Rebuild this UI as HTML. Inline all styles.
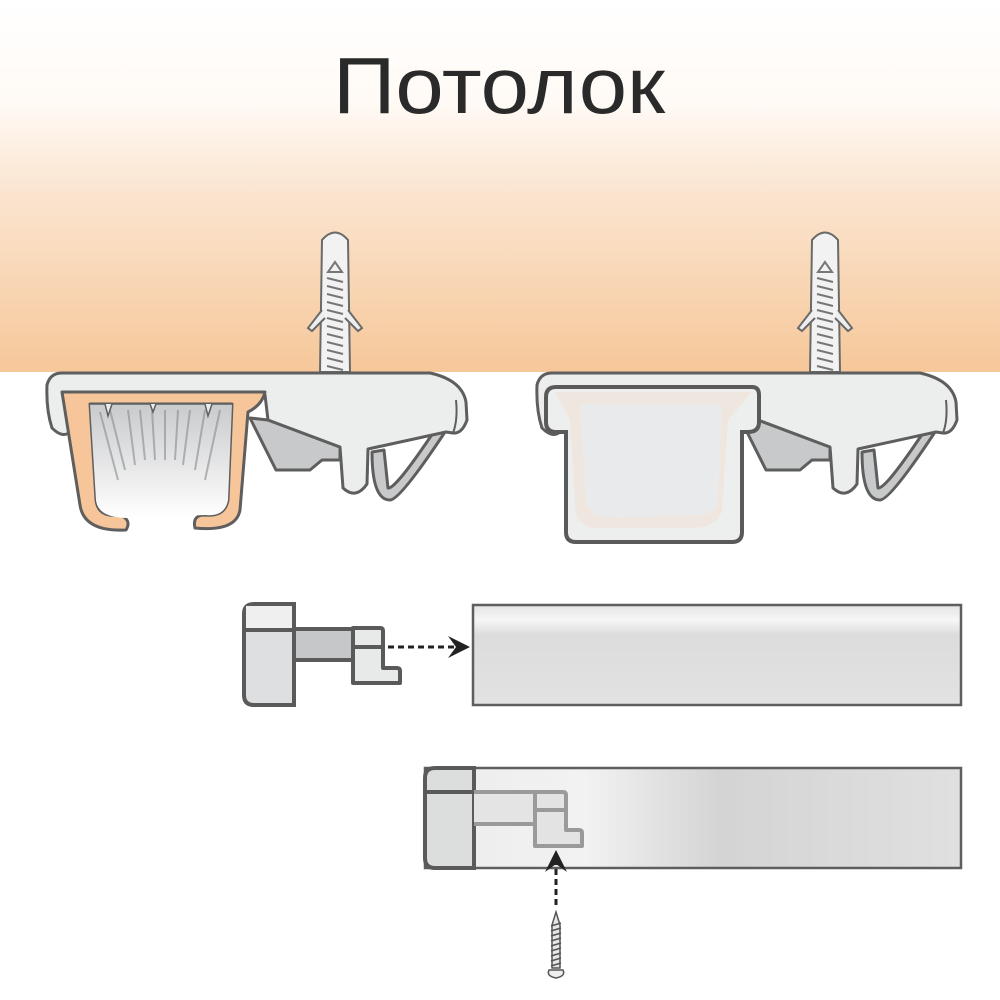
<!DOCTYPE html>
<html><head><meta charset="utf-8"><style>
html,body{margin:0;padding:0;background:#fff}
svg{display:block}
</style></head><body>
<svg width="1000" height="1000" viewBox="0 0 1000 1000" xmlns="http://www.w3.org/2000/svg">
<defs>
<linearGradient id="ceil" x1="0" y1="0" x2="0" y2="1">
<stop offset="0" stop-color="#ffffff"/>
<stop offset="0.28" stop-color="#fffaf5"/>
<stop offset="0.5" stop-color="#fbe6d2"/>
<stop offset="1" stop-color="#f6c799"/>
</linearGradient>
<linearGradient id="inner" x1="0" y1="0" x2="0" y2="1">
<stop offset="0" stop-color="#c9cacc"/>
<stop offset="1" stop-color="#ffffff"/>
</linearGradient>
<linearGradient id="rail" x1="0" y1="0" x2="0" y2="1">
<stop offset="0" stop-color="#e4e4e4"/>
<stop offset="0.15" stop-color="#f6f6f6"/>
<stop offset="0.3" stop-color="#dcdcdc"/>
<stop offset="1" stop-color="#e2e2e2"/>
</linearGradient>
<linearGradient id="rail2" x1="0" y1="0" x2="1" y2="0">
<stop offset="0" stop-color="#ececec"/>
<stop offset="0.3" stop-color="#f2f2f2"/>
<stop offset="0.55" stop-color="#d4d4d4"/>
<stop offset="1" stop-color="#e0e0e0"/>
</linearGradient>
<g id="dowel">
<path d="M320,372 L322,240 Q335,225 348,240 L350,372 Z" fill="#f2f2f2" stroke="#6a6a6a" stroke-width="2"/>
<path d="M322,310 L308,328 L312,331 L325,318 M348,310 L362,328 L358,331 L345,318" fill="#eee" stroke="#6a6a6a" stroke-width="2"/>
<g stroke="#777" stroke-width="2" fill="none">
<path d="M335,262 L328,272 L342,272 Z"/>
<path d="M327,278 L343,282 M327,286 L343,290 M327,294 L343,298 M327,302 L343,306 M327,310 L343,314 M327,318 L343,322 M327,326 L343,330 M327,334 L343,338 M327,342 L343,346 M327,350 L343,354 M327,358 L343,362 M327,366 L343,370"/>
</g>
</g>
<g id="bracket">
<path d="M340,447 L268,420 L250,418 L276,470 L310,470 L322,460 L340,460 Z" fill="#c8c9ca" stroke="#5e5e5e" stroke-width="3" stroke-linejoin="round"/>
<path d="M372,452 Q372,500 390,500 Q400,500 445,432 L435,430 Q395,490 388,488 L384,450 Z" fill="#c8c9ca" stroke="#5e5e5e" stroke-width="3" stroke-linejoin="round"/>
<path d="M62,373 L430,373 Q462,380 466,402 L467,420 Q462,434 453,433 L446,432 L368,449 L367,484 Q356,500 343,488 L340,447 L268,420 L265,395 L72,395 L72,430 Q64,440 52,428 Q46,410 47,385 Q50,373 62,373 Z" fill="#eceded" stroke="#5e5e5e" stroke-width="3" stroke-linejoin="round"/>
<path d="M453,433 Q458,420 456,400" fill="none" stroke="#5e5e5e" stroke-width="2"/>
</g>
</defs>
<rect x="0" y="0" width="1000" height="372" fill="url(#ceil)"/>
<text x="333" y="113" font-family="'Liberation Sans','DejaVu Sans',sans-serif" font-size="80" fill="#2a2a2a" textLength="332" lengthAdjust="spacingAndGlyphs">Потолок</text>

<use href="#dowel"/>
<use href="#dowel" transform="translate(490,0)"/>

<use href="#bracket"/>
<path d="M62,392 L265,392 Q262,405 248,412 L240,510 Q236,532 195,528 Q192,515 205,515 Q225,517 228,500 L232,404 L90,404 L96,500 Q98,518 120,515 Q132,520 126,530 Q84,532 80,505 Z" fill="#f6c69a" stroke="#5e5e5e" stroke-width="3" stroke-linejoin="round"/>
<path d="M90,404 L232,404 L228,500 Q225,517 205,515 L128,518 Q98,518 96,500 Z" fill="url(#inner)"/>
<g stroke="#8a8b8d" stroke-width="2" opacity="0.6">
<path d="M100,412 L118,480 M110,410 L125,470 M128,410 L135,465 M140,410 L145,460 M152,410 L155,460 M165,410 L165,460 M178,410 L175,460 M190,410 L183,465 M205,410 L195,470 M220,410 L205,480"/>
</g>
<path d="M90,404 L105,404 L108,416 L112,404 L150,404 L153,412 L156,404 L205,404 L208,416 L212,404 L232,404" fill="#eceded" stroke="#5e5e5e" stroke-width="1.5"/>

<use href="#bracket" transform="translate(490,0)"/>
<path d="M556,387 L752,387 Q759,387 759,395 L759,422 Q759,432 748,432 L742,432 L742,532 Q742,542 732,542 L576,542 Q566,542 566,532 L566,432 L556,432 Q546,432 546,422 L546,397 Q546,387 556,387 Z" fill="#edeeee" stroke="#5a5a5a" stroke-width="4"/>
<path d="M555,392 L752,392 L728,420 L722,510 Q718,528 690,528 L600,528 Q575,528 575,505 L570,420 Z" fill="#efe4d9" opacity="0.7"/>
<path d="M580,404 L722,404 L718,500 Q715,517 695,515 L618,518 Q588,518 586,500 Z" fill="#e9eaeb"/>

<rect x="473" y="605" width="488" height="100" fill="url(#rail)" stroke="#5e5e5e" stroke-width="2.5"/>
<path d="M254,604 L294,604 L294,705 L254,705 Q244,705 244,695 L244,614 Q244,604 254,604 Z" fill="#dedfe0" stroke="#5a5a5a" stroke-width="4"/>
<rect x="246" y="606" width="46" height="24" fill="#efefef"/>
<line x1="244" y1="630" x2="294" y2="630" stroke="#5a5a5a" stroke-width="4"/>
<rect x="294" y="629" width="60" height="31" fill="#c6c7c8" stroke="#5a5a5a" stroke-width="4"/>
<path d="M353,628 L380,628 Q383,628 383,631 L383,668 L397,668 Q400,668 400,671 L400,683 L353,683 Z" fill="#e8e9e9" stroke="#5a5a5a" stroke-width="4" stroke-linejoin="round"/>
<line x1="353" y1="647" x2="383" y2="647" stroke="#5a5a5a" stroke-width="4"/>
<line x1="388" y1="647" x2="462" y2="647" stroke="#222" stroke-width="3" stroke-dasharray="6,4"/>
<path d="M448,636 L470,647 L448,658 L456,647 Z" fill="#222"/>

<rect x="425" y="768" width="536" height="100" fill="url(#rail2)" stroke="#5e5e5e" stroke-width="2.5"/>
<path d="M435,768 L474,768 L474,868 L435,868 Q425,868 425,858 L425,778 Q425,768 435,768 Z" fill="#dcdddd" stroke="#5a5a5a" stroke-width="4"/>
<line x1="425" y1="792" x2="474" y2="792" stroke="#5a5a5a" stroke-width="4"/>
<path d="M474,792 L535,792 L535,824 L474,824" fill="#e4e4e4" stroke="#9a9a9a" stroke-width="4"/>
<path d="M535,792 L563,792 Q566,792 566,795 L566,830 L579,830 Q582,830 582,833 L582,846 L535,846 Z" fill="#e3e3e3" stroke="#9a9a9a" stroke-width="4" stroke-linejoin="round"/>
<line x1="535" y1="810" x2="566" y2="810" stroke="#9a9a9a" stroke-width="4"/>
<line x1="556" y1="905" x2="556" y2="862" stroke="#222" stroke-width="3" stroke-dasharray="6,4"/>
<path d="M545,872 L556,850 L567,872 L556,864 Z" fill="#222"/>
<path d="M556,912 L560,925 L560,968 L552,968 L552,925 Z" fill="#e6e6e6" stroke="#555" stroke-width="1.5"/>
<g stroke="#555" stroke-width="1.5"><path d="M551,926 L561,923 M551,931 L561,928 M551,936 L561,933 M551,941 L561,938 M551,946 L561,943 M551,951 L561,948 M551,956 L561,953 M551,961 L561,958 M551,966 L561,963"/></g>
<path d="M549,970 L563,970 Q566,976 556,978 Q546,976 549,970 Z" fill="#eee" stroke="#555" stroke-width="1.5"/>
</svg>
</body></html>
